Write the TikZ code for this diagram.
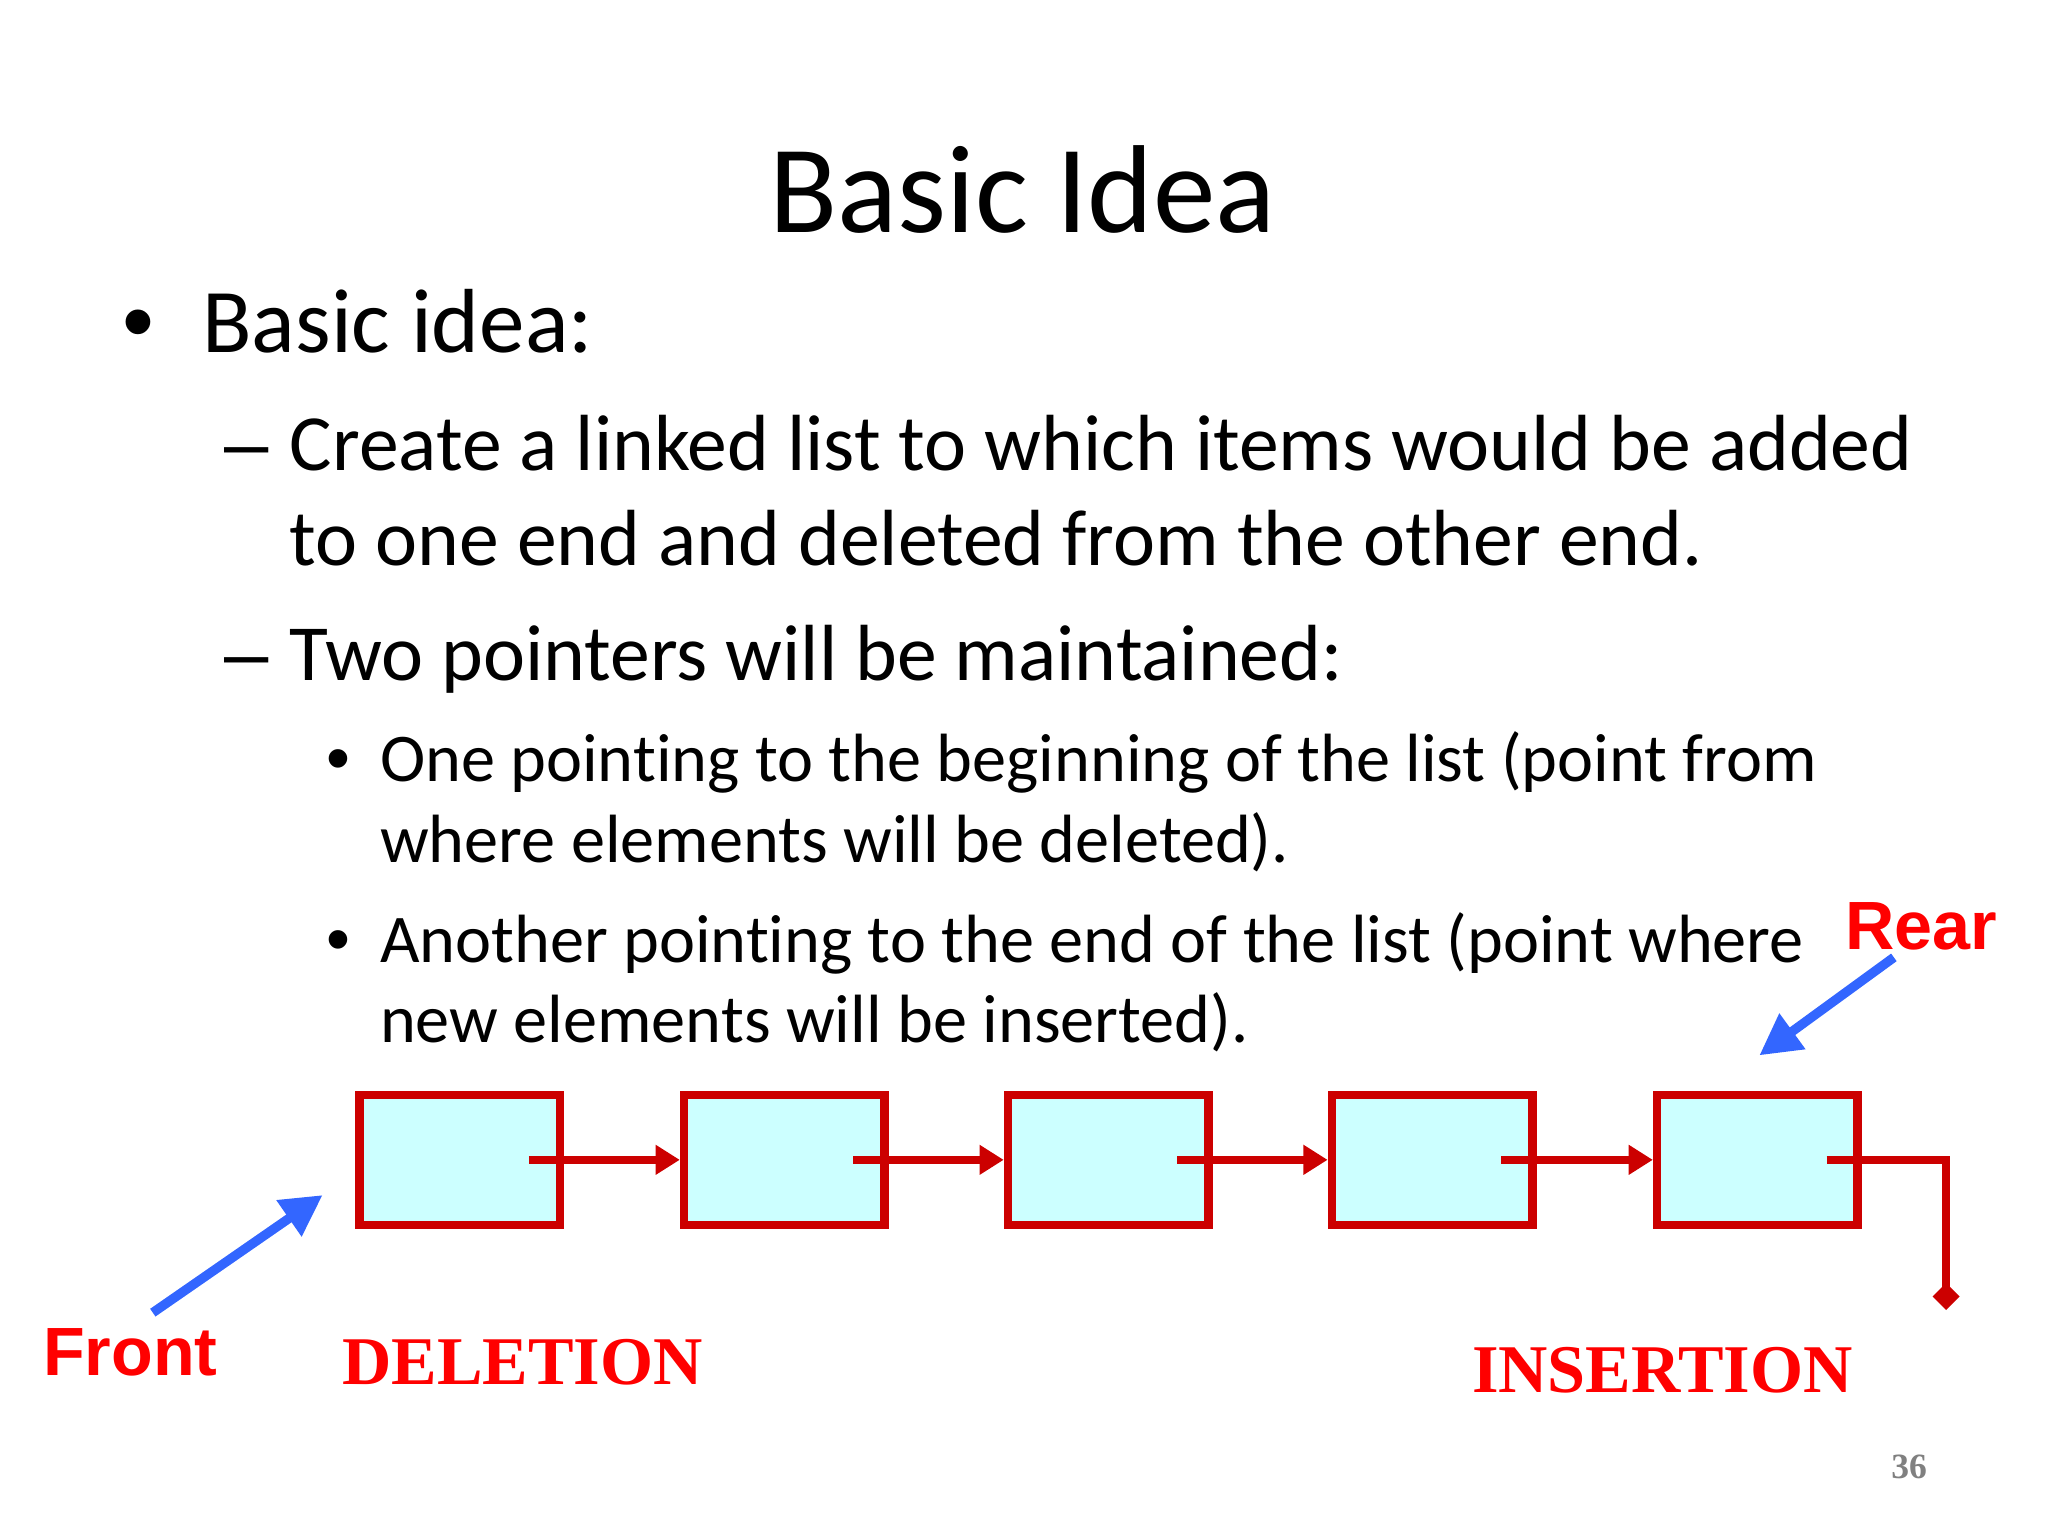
\documentclass[tikz,border=0pt]{standalone}
\usepackage{fontspec}
\setmainfont{Carlito}[Ligatures=NoCommon]
\newfontfamily\arialfont{Liberation Sans}
\newfontfamily\timesfont{Liberation Serif}
\usetikzlibrary{arrows.meta}
\definecolor{boxred}{RGB}{204,0,0}
\definecolor{cellfill}{RGB}{204,255,255}
\definecolor{ptrblue}{RGB}{51,102,255}
\definecolor{lblred}{RGB}{255,0,0}
\definecolor{pagegray}{RGB}{128,128,128}
\begin{document}
\begin{tikzpicture}[x=0.45918pt,y=-0.45918pt,
  txt/.style={anchor=base west, inner sep=0pt, outer sep=0pt},
  mark1/.style={anchor=base, inner sep=0pt, outer sep=0pt},
  lvlone/.style={font=\fontsize{32}{38}\selectfont},
  lvltwo/.style={font=\fontsize{28}{34}\selectfont},
  lvlthree/.style={font=\fontsize{24}{29}\selectfont},
  markone/.style={mark1, font=\arialfont\fontsize{32}{38}\selectfont},
  marktwo/.style={mark1, font=\arialfont\fontsize{28}{34}\selectfont},
  markthree/.style={mark1, font=\arialfont\fontsize{24}{29}\selectfont},
  cell/.style={draw=boxred, fill=cellfill, line width=3pt, minimum width=70.5pt, minimum height=45.7pt, inner sep=0pt},
  link/.style={draw=boxred, line width=3pt, -{Triangle[length=8.5pt,width=10pt]}},
  ptr/.style={draw=ptrblue, line width=3.3pt, -{Triangle[length=14.4pt,width=14.7pt]}},
  sanslbl/.style={txt, text=lblred, font=\arialfont\bfseries\fontsize{24}{28}\selectfont},
  seriflbl/.style={txt, text=lblred, font=\timesfont\bfseries\fontsize{24}{28}\selectfont}
]
\useasboundingbox (0,0) rectangle (1568,1176);

% title
\node[mark1, font=\fontsize{44}{52}\selectfont] (title) at (783,178) {Basic Idea};

% level 1
\node[markone] (b1) at (106,270) {•};
\node[txt, lvlone] (l1) at (155,270) {Basic idea:};

% level 2
\node[marktwo] (d1) at (189,360) {–};
\node[txt, lvltwo] (l2a) at (222,360) {Create a linked list to which items would be added};
\node[txt, lvltwo] (l2b) at (222,433) {to one end and deleted from the other end.};
\node[marktwo] (d2) at (189,521) {–};
\node[txt, lvltwo] (l2c) at (222,521) {Two pointers will be maintained:};

% level 3
\node[markthree] (b2) at (259,598) {•};
\node[txt, lvlthree] (l3a) at (291,598) {One pointing to the beginning of the list (point from};
\node[txt, lvlthree] (l3b) at (291,660) {where elements will be deleted).};
\node[markthree] (b3) at (259,737) {•};
\node[txt, lvlthree] (l3c) at (291,737) {Another pointing to the end of the list (point where};
\node[txt, lvlthree] (l3d) at (291,798) {new elements will be inserted).};

% list cells
\node[cell] (c1) at (352,888) {};
\node[cell] (c2) at (600.5,888) {};
\node[cell] (c3) at (848.5,888) {};
\node[cell] (c4) at (1096.5,888) {};
\node[cell] (c5) at (1345.5,888) {};

\draw[link] ([xshift=24.3pt]c1.center) -- (c2.west);
\draw[link] ([xshift=24.3pt]c2.center) -- (c3.west);
\draw[link] ([xshift=24.3pt]c3.center) -- (c4.west);
\draw[link] ([xshift=24.3pt]c4.center) -- (c5.west);
\coordinate (nullend) at (1490,1003);
\draw[draw=boxred, line width=3pt, -{Diamond[length=9.5pt,width=9.5pt]}]
  ([xshift=24.3pt]c5.center) -| (nullend);

% labels
\node[sanslbl] (front) at (33,1053) {Front};
\node[sanslbl] (rear) at (1413,727) {Rear};
\node[seriflbl] (del) at (262,1060) {DELETION};
\node[seriflbl] (ins) at (1127,1066) {INSERTION};
\node[txt, text=pagegray, font=\timesfont\bfseries\fontsize{12.5}{15}\selectfont] (pg) at (1448,1132) {36};

% pointers
\coordinate (ftail) at (117,1005);
\coordinate (ftip) at (247,915);
\coordinate (rtail) at (1450,733);
\coordinate (rtip) at (1347,808);
\draw[ptr] (ftail) -- (ftip);
\draw[ptr] (rtail) -- (rtip);
\end{tikzpicture}
\end{document}
